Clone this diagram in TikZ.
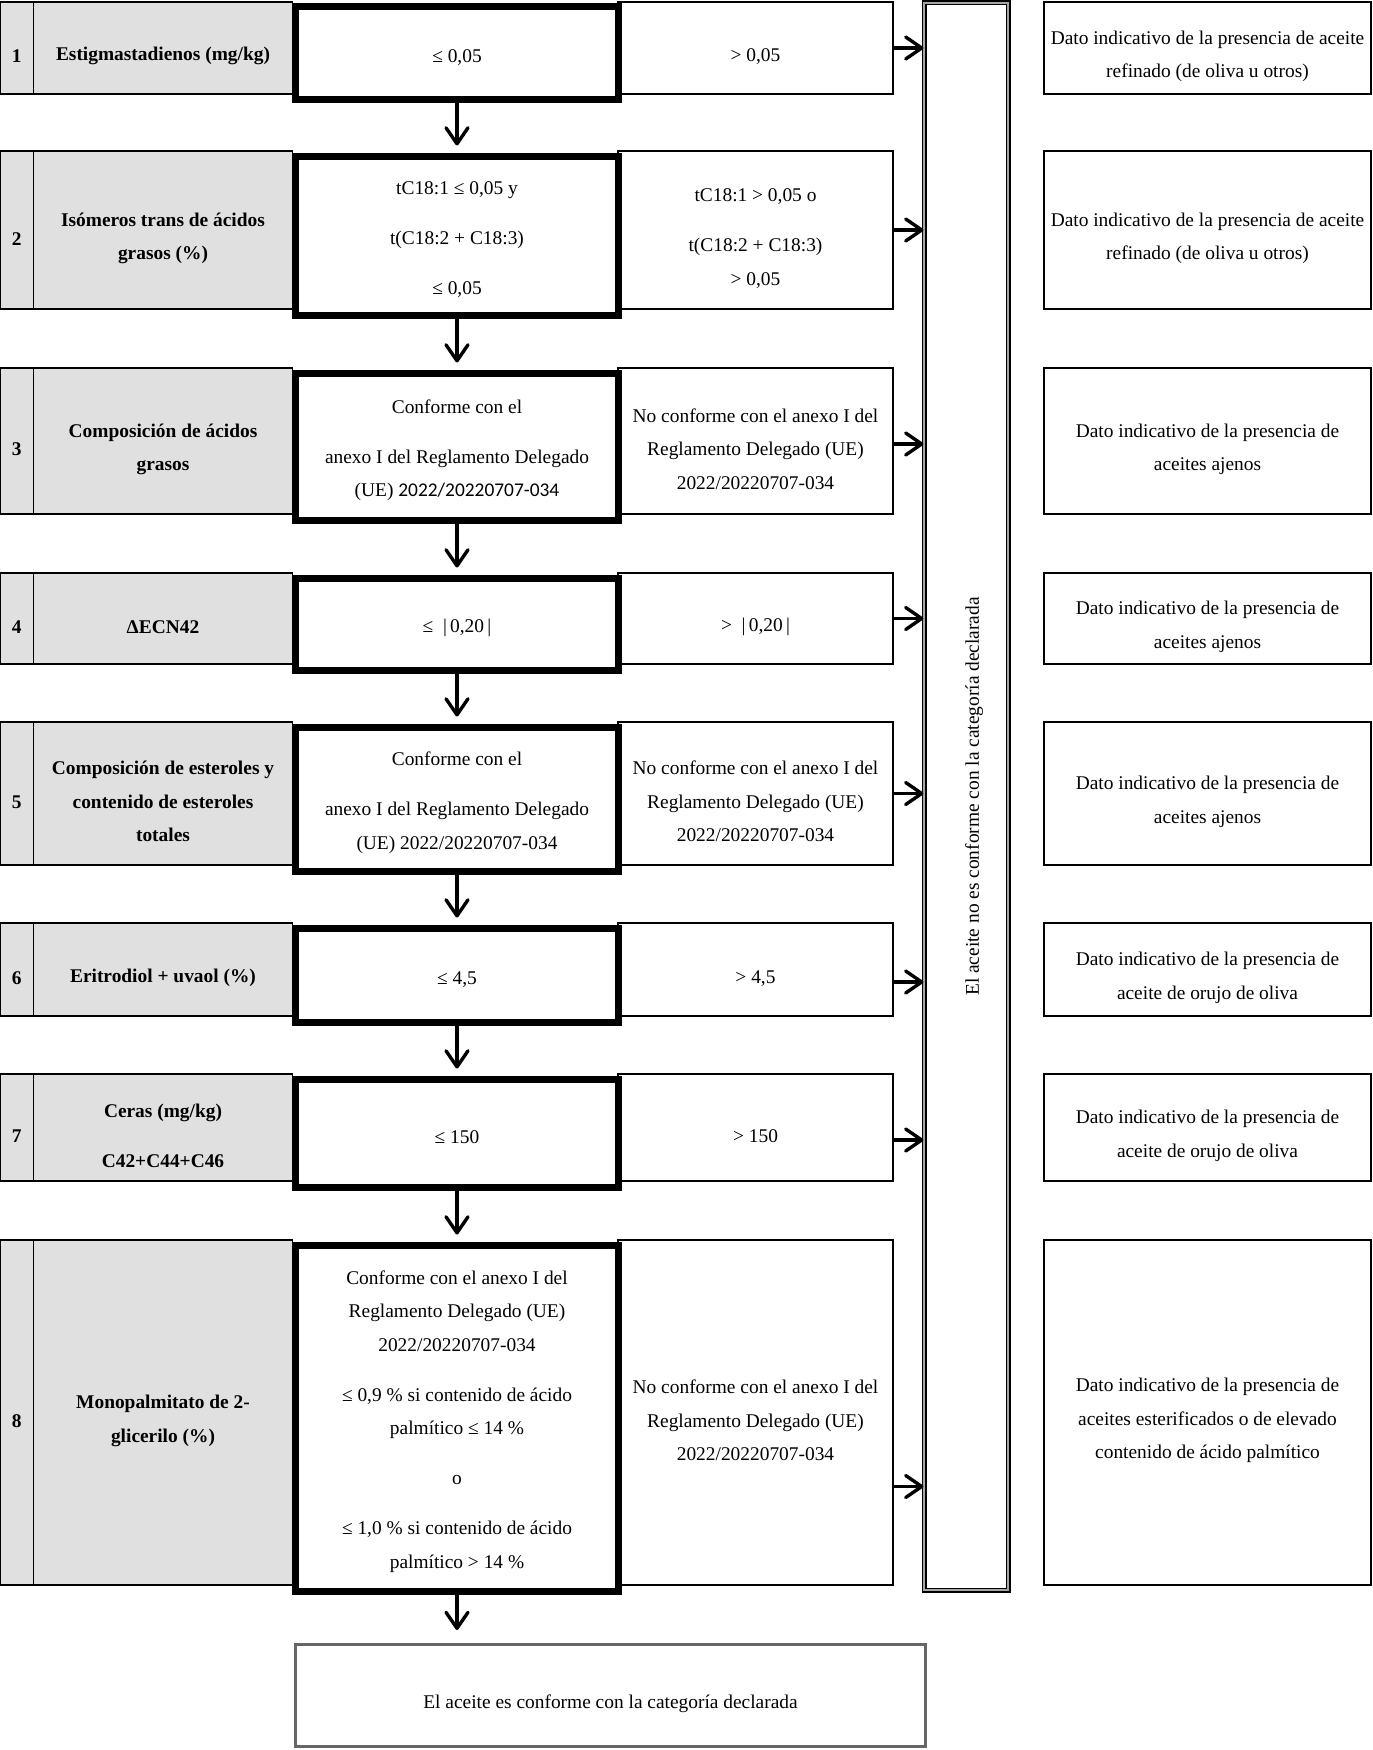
\documentclass[tikz,border=0pt]{standalone}
\usepackage{fontspec}
\setmainfont{Liberation Serif}
\newfontfamily\carlito{Carlito}
\usetikzlibrary{arrows.meta,positioning,calc}

\newcommand\cellfont{\fontsize{9.7}{16.75}\selectfont}
\newcommand\lift{\rule{0pt}{15pt}}
\newcommand\liftok{\rule{0pt}{10.5pt}}

\begin{document}
\begin{tikzpicture}[x=0.5pt, y=-0.5pt, font=\cellfont, >={Straight Barb[length=8pt,width=11pt,round]}]
    \tikzstyle{lowtext}=[execute at begin node={\rule{0pt}{15pt}}]
    \tikzstyle{cell}=[draw=black, line width=0.8pt, outer sep=0pt, inner sep=2pt, align=center, anchor=north west, font=\cellfont, lowtext]
    \tikzstyle{numcell}=[cell, fill=black!12, minimum width=16.75pt, font=\cellfont\bfseries]
    \tikzstyle{namecell}=[cell, fill=black!12, minimum width=129.5pt, font=\cellfont\bfseries]
    \tikzstyle{okcell}=[draw=black, fill=white, line width=3.5pt, minimum width=161.5pt, align=center, anchor=north, font=\cellfont, execute at begin node={\rule{0pt}{10.5pt}}]
    \tikzstyle{failcell}=[cell, minimum width=137.5pt]
    \tikzstyle{resultcell}=[cell, minimum width=163.5pt]
    \tikzstyle{down}=[->, line width=1.7pt, shorten >=3.5pt]
    \tikzstyle{toside}=[->, line width=1.7pt]

    \useasboundingbox (0,0) rectangle (1372,1750);

    % 1
    \node[numcell, minimum height=46pt] (n1) at (0,2) {1};
    \node[namecell, minimum height=46pt, right=0pt of n1] (t1) {Estigmastadienos (mg/kg)};
    \node[failcell, minimum height=46pt] (f1) at (618,2) {> 0,05};
    \node[okcell, minimum height=46.5pt] (ok1) at (457,3.5) {≤ 0,05};
    \node[resultcell, minimum height=46pt] (d1) at (1044,2) {\lift Dato indicativo de la presencia de aceite\\refinado (de oliva u otros)};

    % 2
    \node[numcell, minimum height=79pt] (n2) at (0,151) {2};
    \node[namecell, minimum height=79pt, right=0pt of n2] (t2) {\lift Isómeros trans de ácidos\\grasos (\%)};
    \node[failcell, minimum height=79pt] (f2) at (618,151) {\lift tC18:1 > 0,05 o\\[8.25pt]t(C18:2 + C18:3)\\> 0,05};
    \node[okcell, minimum height=79.5pt] (ok2) at (457,152.5) {\liftok tC18:1 ≤ 0,05 y\\[8.25pt]t(C18:2 + C18:3)\\[8.25pt]≤ 0,05};
    \node[resultcell, minimum height=79pt] (d2) at (1044,151) {\lift Dato indicativo de la presencia de aceite\\refinado (de oliva u otros)};

    % 3
    \node[numcell, minimum height=73pt] (n3) at (0,368) {3};
    \node[namecell, minimum height=73pt, right=0pt of n3] (t3) {\lift Composición de ácidos\\grasos};
    \node[failcell, minimum height=73pt] (f3) at (618,368) {\lift No conforme con el anexo I del\\Reglamento Delegado (UE)\\2022/20220707-034};
    \node[okcell, minimum height=73.5pt] (ok3) at (457,369.5) {\liftok Conforme con el\\[8.25pt]anexo I del Reglamento Delegado\\(UE) {\carlito 2022/20220707-034}};
    \node[resultcell, minimum height=73pt] (d3) at (1044,368) {\lift Dato indicativo de la presencia de\\aceites ajenos};

    % 4
    \node[numcell, minimum height=45.5pt] (n4) at (0,573) {4};
    \node[namecell, minimum height=45.5pt, right=0pt of n4] (t4) {ΔECN42};
    \node[failcell, minimum height=45.5pt] (f4) at (618,573) {>\enspace|\,0,20\,|};
    \node[okcell, minimum height=46pt] (ok4) at (457,574.5) {≤\enspace|\,0,20\,|};
    \node[resultcell, minimum height=45.5pt] (d4) at (1044,573) {\lift Dato indicativo de la presencia de\\aceites ajenos};

    % 5
    \node[numcell, minimum height=71.5pt] (n5) at (0,722) {5};
    \node[namecell, minimum height=71.5pt, right=0pt of n5] (t5) {\lift Composición de esteroles y\\contenido de esteroles\\totales};
    \node[failcell, minimum height=71.5pt] (f5) at (618,722) {\lift No conforme con el anexo I del\\Reglamento Delegado (UE)\\2022/20220707-034};
    \node[okcell, minimum height=72pt] (ok5) at (457,723.5) {\liftok Conforme con el\\[8.25pt]anexo I del Reglamento Delegado\\(UE) 2022/20220707-034};
    \node[resultcell, minimum height=71.5pt] (d5) at (1044,722) {\lift Dato indicativo de la presencia de\\aceites ajenos};

    % 6
    \node[numcell, minimum height=46.5pt] (n6) at (0,923) {6};
    \node[namecell, minimum height=46.5pt, right=0pt of n6] (t6) {Eritrodiol + uvaol (\%)};
    \node[failcell, minimum height=46.5pt] (f6) at (618,923) {> 4,5};
    \node[okcell, minimum height=47pt] (ok6) at (457,924.5) {≤ 4,5};
    \node[resultcell, minimum height=46.5pt] (d6) at (1044,923) {\lift Dato indicativo de la presencia de\\aceite de orujo de oliva};

    % 7
    \node[numcell, minimum height=53.5pt] (n7) at (0,1074) {7};
    \node[namecell, minimum height=53.5pt, right=0pt of n7] (t7) {\lift Ceras (mg/kg)\\[8.25pt]C42+C44+C46};
    \node[failcell, minimum height=53.5pt] (f7) at (618,1074) {> 150};
    \node[okcell, minimum height=54pt] (ok7) at (457,1075.5) {≤ 150};
    \node[resultcell, minimum height=53.5pt] (d7) at (1044,1074) {\lift Dato indicativo de la presencia de\\aceite de orujo de oliva};

    % 8
    \node[numcell, minimum height=172.5pt] (n8) at (0,1240) {8};
    \node[namecell, minimum height=172.5pt, right=0pt of n8] (t8) {\lift Monopalmitato de 2-\\glicerilo (\%)};
    \node[failcell, minimum height=172.5pt] (f8) at (618,1240) {\lift No conforme con el anexo I del\\Reglamento Delegado (UE)\\2022/20220707-034};
    \node[okcell, minimum height=173pt] (ok8) at (457,1241.5) {\liftok Conforme con el anexo I del\\Reglamento Delegado (UE)\\2022/20220707-034\\[8.25pt]≤ 0,9 \% si contenido de ácido\\palmítico ≤ 14 \%\\[8.25pt]o\\[8.25pt]≤ 1,0 \% si contenido de ácido\\palmítico > 14 \%};
    \node[resultcell, minimum height=172.5pt] (d8) at (1044,1240) {\lift Dato indicativo de la presencia de\\aceites esterificados o de elevado\\contenido de ácido palmítico};

    % not conform
    \node[draw=black, double=black!35, double distance=1.3pt, line width=0.6pt, rotate=90, minimum width=793.5pt, minimum height=42pt, font=\cellfont, lowtext] (vbox) at (966,796.5) {El aceite no es conforme con la categoría declarada};

    % conform
    \node[draw=black!60, line width=1.5pt, minimum width=315pt, minimum height=51pt, font=\cellfont, lowtext] (final) at (610.5,1695.5) {El aceite es conforme con la categoría declarada};

    % edges down
    \draw[down] (ok1) -- (ok2);
    \draw[down] (ok2) -- (ok3);
    \draw[down] (ok3) -- (ok4);
    \draw[down] (ok4) -- (ok5);
    \draw[down] (ok5) -- (ok6);
    \draw[down] (ok6) -- (ok7);
    \draw[down] (ok7) -- (ok8);
    \draw[down, shorten >=6.5pt] (ok8.south) -- (ok8.south |- final.north);

    % edges to the side
    \draw[toside] (f1.east) -- (f1.east -| vbox.north);
    \draw[toside] (f2.east) -- (f2.east -| vbox.north);
    \draw[toside] ([yshift=-1.5pt]f3.east) -- ([yshift=-1.5pt]f3.east -| vbox.north);
    \draw[toside] (f4.east) -- (f4.east -| vbox.north);
    \draw[toside] (f5.east) -- (f5.east -| vbox.north);
    \draw[toside] ([yshift=-6.25pt]f6.east) -- ([yshift=-6.25pt]f6.east -| vbox.north);
    \draw[toside] ([yshift=-6.25pt]f7.east) -- ([yshift=-6.25pt]f7.east -| vbox.north);
    \draw[toside] ([yshift=-37pt]f8.east) -- ([yshift=-37pt]f8.east -| vbox.north);

\end{tikzpicture}
\end{document}
